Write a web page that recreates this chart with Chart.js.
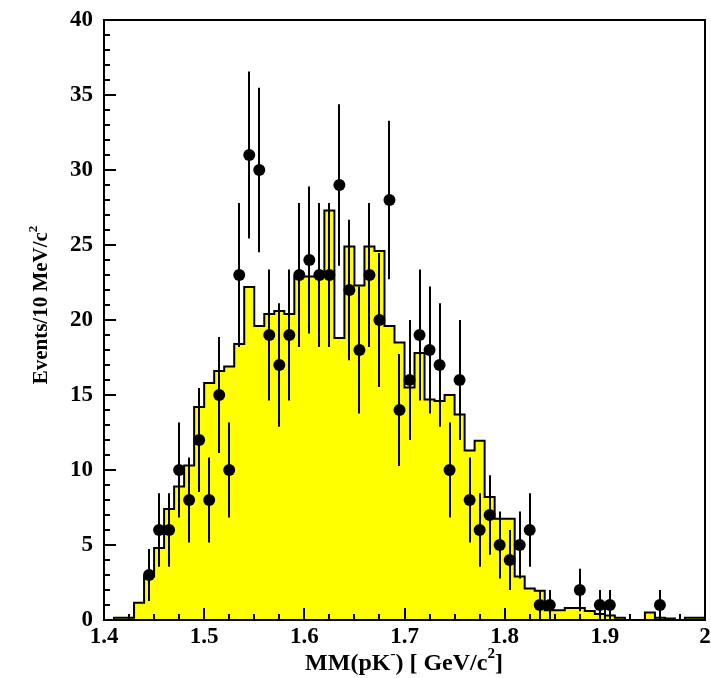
<!DOCTYPE html>
<html lang="en">
<head>
<meta charset="UTF-8">
<title>MM(pK-) spectrum</title>
<script src="https://cdn.jsdelivr.net/npm/chart.js"></script>
<style>
    body { margin: 0; background: #ffffff; }
    #wrap { width: 711px; height: 678px; }
</style>
</head>
<body>
<div id="wrap"><canvas id="mmChart" width="711" height="678"></canvas></div>
<script>
// 10 MeV bins from 1.40 to 2.00 GeV/c^2
const binStart = 1.40;
const binWidth = 0.01;

// simulated spectrum, one value per bin (yellow histogram)
const mcCounts = [
    0, 0.15, 0.15, 1.15, 2.9, 4.8, 7.4, 8.9, 10.3, 14.2,
    15.8, 16.6, 16.9, 18.4, 22.2, 19.6, 20.4, 20.6, 20.4, 22.9,
    22.9, 22.9, 27.3, 18.8, 24.9, 22.3, 24.9, 24.6, 19.6, 18.5,
    15.5, 17.8, 14.7, 14.6, 15.0, 13.7, 11.3, 11.95, 8.2, 6.75,
    6.75, 2.9, 2.1, 1.95, 0.65, 0.65, 0.8, 0.8, 0.6, 0.4,
    0.3, 0.15, 0, 0, 0.5, 0.15, 0.1, 0, 0.15, 0.15
];

// measured events: bin centre, count, error
const dataMass = [
    1.445, 1.455, 1.465, 1.475, 1.485, 1.495, 1.505, 1.515, 1.525, 1.535,
    1.545, 1.555, 1.565, 1.575, 1.585, 1.595, 1.605, 1.615, 1.625, 1.635,
    1.645, 1.655, 1.665, 1.675, 1.685, 1.695, 1.705, 1.715, 1.725, 1.735,
    1.745, 1.755, 1.765, 1.775, 1.785, 1.795, 1.805, 1.815, 1.825, 1.835,
    1.845, 1.875, 1.895, 1.905, 1.955
];
const dataCounts = [
    3, 6, 6, 10, 8, 12, 8, 15, 10, 23,
    31, 30, 19, 17, 19, 23, 24, 23, 23, 29,
    22, 18, 23, 20, 28, 14, 16, 19, 18, 17,
    10, 16, 8, 6, 7, 5, 4, 5, 6, 1,
    1, 2, 1, 1, 1
];
const dataErrors = [
    1.73, 2.45, 2.45, 3.16, 2.83, 3.46, 2.83, 3.87, 3.16, 4.80,
    5.57, 5.48, 4.36, 4.12, 4.36, 4.80, 4.90, 4.80, 4.80, 5.39,
    4.69, 4.24, 4.80, 4.47, 5.29, 3.74, 4.00, 4.36, 4.24, 4.12,
    3.16, 4.00, 2.83, 2.45, 2.65, 2.24, 2.00, 2.24, 2.45, 1.00,
    1.00, 1.41, 1.00, 1.00, 1.00
];

const xTickValues = [1.4, 1.5, 1.6, 1.7, 1.8, 1.9, 2.0];
const yTickValues = [0, 5, 10, 15, 20, 25, 30, 35, 40];

const FONT = '"Liberation Serif", "Times New Roman", serif';

// step outline: left edge of every bin, plus the closing right edge
const histPoints = mcCounts.map((v, i) => ({ x: +(binStart + i * binWidth).toFixed(3), y: v }));
histPoints.push({ x: +(binStart + mcCounts.length * binWidth).toFixed(3), y: mcCounts[mcCounts.length - 1] });

const dataPoints = dataMass.map((m, i) => ({ x: m, y: dataCounts[i] }));

// text with superscripts, centred on (0,0), alphabetic baseline
function drawRich(ctx, segs, size) {
    const main = `bold ${size}px ${FONT}`;
    const sup = `bold ${Math.round(size * 0.62)}px ${FONT}`;
    let total = 0;
    const widths = segs.map(s => {
        ctx.font = s.sup ? sup : main;
        const w = ctx.measureText(s.t).width;
        total += w;
        return w;
    });
    let cx = -total / 2;
    segs.forEach((s, i) => {
        ctx.font = s.sup ? sup : main;
        ctx.fillText(s.t, cx, s.sup ? -size * 0.48 : 0);
        cx += widths[i];
    });
}

const errorBars = {
    id: 'errorBars',
    afterDatasetsDraw(chart) {
        const { ctx, scales: { x, y } } = chart;
        ctx.save();
        ctx.strokeStyle = '#000';
        ctx.lineWidth = 2;
        ctx.beginPath();
        dataMass.forEach((m, i) => {
            const px = Math.round(x.getPixelForValue(m));
            ctx.moveTo(px, y.getPixelForValue(Math.max(0, dataCounts[i] - dataErrors[i])));
            ctx.lineTo(px, y.getPixelForValue(dataCounts[i] + dataErrors[i]));
        });
        ctx.stroke();
        ctx.restore();
    }
};

// frame with inward ticks on the left and bottom, plus axis titles
const frameAndTicks = {
    id: 'frameAndTicks',
    afterDraw(chart) {
        const { ctx, chartArea: a, scales: { x, y } } = chart;
        ctx.save();
        ctx.strokeStyle = '#000';
        ctx.lineWidth = 2;
        ctx.beginPath();
        for (let v = 0; v <= 40; v++) {
            const py = Math.round(y.getPixelForValue(v));
            const len = v % 5 === 0 ? 12 : 6;
            ctx.moveTo(a.left, py);
            ctx.lineTo(a.left + len, py);
        }
        for (let k = 0; k <= 24; k++) {
            const px = Math.round(x.getPixelForValue(1.4 + k * 0.025));
            const len = k % 4 === 0 ? 12 : 6;
            ctx.moveTo(px, a.bottom);
            ctx.lineTo(px, a.bottom - len);
        }
        ctx.stroke();
        ctx.strokeRect(a.left, a.top, a.right - a.left, a.bottom - a.top);

        ctx.fillStyle = '#000';
        ctx.textBaseline = 'alphabetic';
        ctx.textAlign = 'left';

        ctx.save();
        ctx.translate(404, 670);
        drawRich(ctx, [
            { t: 'MM(pK' }, { t: '-', sup: true }, { t: ') [ GeV/c' }, { t: '2', sup: true }, { t: ']' }
        ], 24);
        ctx.restore();

        ctx.save();
        ctx.translate(47, 305);
        ctx.rotate(-Math.PI / 2);
        drawRich(ctx, [{ t: 'Events/10 MeV/c' }, { t: '2', sup: true }], 21);
        ctx.restore();

        ctx.restore();
    }
};

new Chart(document.getElementById('mmChart'), {
    type: 'line',
    data: {
        datasets: [
            {
                type: 'scatter',
                data: dataPoints,
                order: 0,
                pointRadius: 6,
                pointHoverRadius: 6,
                pointBackgroundColor: '#000',
                pointBorderWidth: 0,
                showLine: false
            },
            {
                data: histPoints,
                order: 1,
                stepped: 'before',
                fill: 'origin',
                backgroundColor: '#ffff00',
                borderColor: '#000',
                borderWidth: 2,
                pointRadius: 0,
                borderJoinStyle: 'miter'
            }
        ]
    },
    options: {
        responsive: false,
        animation: false,
        devicePixelRatio: 1,
        layout: { padding: { top: 20, right: 5, left: 0, bottom: 0 } },
        plugins: { legend: { display: false }, tooltip: { enabled: false } },
        scales: {
            x: {
                type: 'linear',
                min: 1.4,
                max: 2.0,
                grid: { display: false, drawTicks: false },
                border: { display: false },
                afterBuildTicks: s => { s.ticks = xTickValues.map(v => ({ value: v })); },
                afterFit: s => {
                    s.height = 58;
                    s.paddingLeft = 0;
                    s.paddingRight = 0;
                },
                ticks: {
                    padding: 3,
                    maxRotation: 0,
                    color: '#000',
                    font: { family: FONT, size: 23, weight: 'bold' },
                    callback: v => String(Math.round(v * 10) / 10)
                }
            },
            y: {
                min: 0,
                max: 40,
                grid: { display: false, drawTicks: false },
                border: { display: false },
                afterBuildTicks: s => { s.ticks = yTickValues.map(v => ({ value: v })); },
                afterFit: s => {
                    s.width = 104;
                    s.paddingTop = 0;
                    s.paddingBottom = 0;
                },
                ticks: {
                    padding: 11,
                    color: '#000',
                    font: { family: FONT, size: 23, weight: 'bold' }
                }
            }
        }
    },
    plugins: [errorBars, frameAndTicks]
});
</script>
</body>
</html>
